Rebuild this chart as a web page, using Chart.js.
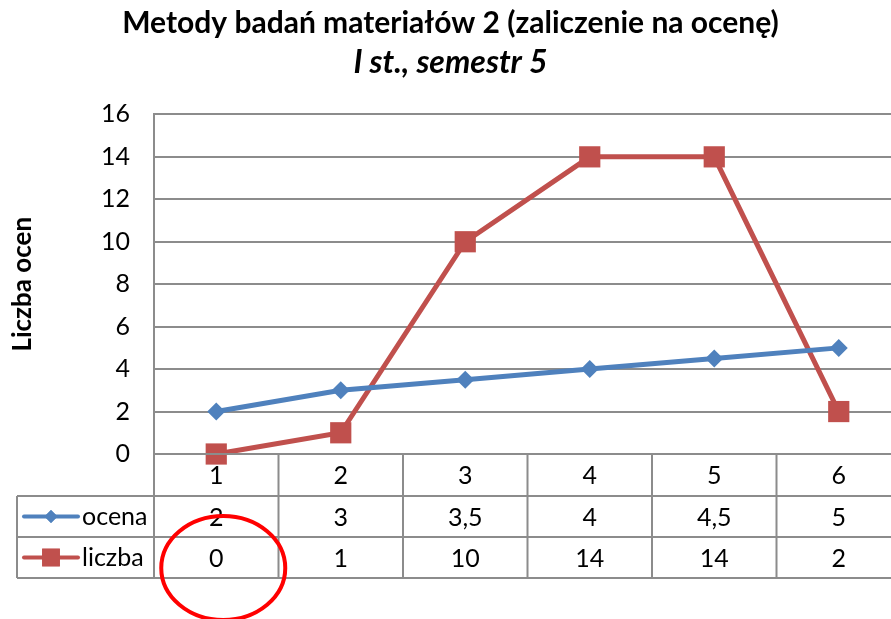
<!DOCTYPE html>
<html lang="pl">
<head>
<meta charset="UTF-8">
<title>Metody badań materiałów 2</title>
<script src="https://cdn.jsdelivr.net/npm/chart.js"></script>
<style>
  html, body { margin: 0; padding: 0; overflow: hidden; background: #fff; }
  canvas { display: block; }
</style>
</head>
<body>
<canvas id="wykres" width="905" height="619"></canvas>
<script>
  // dane z wykresu
  const kategorie = ['1', '2', '3', '4', '5', '6'];
  const ocena = [2, 3, 3.5, 4, 4.5, 5];
  const liczba = [0, 1, 10, 14, 14, 2];
  const ocenaTekst = ['2', '3', '3,5', '4', '4,5', '5'];
  const liczbaTekst = ['0', '1', '10', '14', '14', '2'];

  const NIEBIESKI = '#4F81BD';
  const CZERWONY = '#C0504D';
  const SIATKA = '#8c8c8c';
  const FONT = 'Lato, "Open Sans", sans-serif';

  // tabela danych pod wykresem (rysowana recznie)
  const tabelaPlugin = {
    id: 'tabela',
    afterDraw(chart) {
      const ctx = chart.ctx;
      const x = chart.scales.x;
      const area = chart.chartArea;
      const szer = (area.right - area.left) / kategorie.length;
      const y0 = area.bottom;
      const y1 = y0 + 42, y2 = y1 + 41, y3 = y2 + 41;
      const lewa = 17;

      ctx.save();
      ctx.strokeStyle = SIATKA;
      ctx.lineWidth = 2;
      ctx.beginPath();
      ctx.moveTo(area.left, y0); ctx.lineTo(area.right, y0);
      [y1, y2, y3].forEach(y => { ctx.moveTo(lewa, y); ctx.lineTo(area.right, y); });
      ctx.moveTo(lewa, y1); ctx.lineTo(lewa, y3);
      for (let i = 0; i <= kategorie.length; i++) {
        const xx = area.left + i * szer;
        ctx.moveTo(xx, y0); ctx.lineTo(xx, y3);
      }
      ctx.stroke();

      ctx.fillStyle = '#000';
      ctx.font = '25px ' + FONT;
      ctx.textAlign = 'center';
      ctx.textBaseline = 'middle';
      kategorie.forEach((k, i) => {
        const px = x.getPixelForValue(i);
        ctx.fillText(k, px, (y0 + y1) / 2 + 1);
        ctx.fillText(ocenaTekst[i], px, (y1 + y2) / 2 + 1);
        ctx.fillText(liczbaTekst[i], px, (y2 + y3) / 2 + 1);
      });

      // legenda w tabeli
      const wiersze = [
        { y: (y1 + y2) / 2, kolor: NIEBIESKI, styl: 'rectRot', r: 6.5, nazwa: 'ocena' },
        { y: (y2 + y3) / 2, kolor: CZERWONY, styl: 'rect', r: 12.5, nazwa: 'liczba' }
      ];
      wiersze.forEach(w => {
        ctx.strokeStyle = w.kolor;
        ctx.lineWidth = 4;
        ctx.lineCap = 'round';
        ctx.beginPath();
        ctx.moveTo(24, w.y); ctx.lineTo(78, w.y);
        ctx.stroke();
        ctx.fillStyle = w.kolor;
        Chart.helpers.drawPoint(ctx, { pointStyle: w.styl, radius: w.r, rotation: 0, borderWidth: 0 }, 51, w.y);
        ctx.fill();
        ctx.fillStyle = '#000';
        ctx.textAlign = 'left';
        ctx.fillText(w.nazwa, 82, w.y);
      });

      // czerwone kolko wokol pierwszej wartosci
      ctx.strokeStyle = '#ff0000';
      ctx.lineWidth = 4;
      ctx.beginPath();
      ctx.ellipse(x.getPixelForValue(0) + 7, y3 - 10, 62, 52, 0, 0, Math.PI * 2);
      ctx.stroke();
      ctx.restore();
    }
  };

  const dane = {
    labels: kategorie,
    datasets: [
      {
        label: 'ocena',
        data: ocena,
        borderColor: NIEBIESKI,
        backgroundColor: NIEBIESKI,
        borderWidth: 5,
        pointStyle: 'rectRot',
        pointRadius: 9,
        pointBorderWidth: 0,
        clip: false,
        tension: 0
      },
      {
        label: 'liczba',
        data: liczba,
        borderColor: CZERWONY,
        backgroundColor: CZERWONY,
        borderWidth: 5,
        pointStyle: 'rect',
        pointRadius: 15,
        pointBorderWidth: 0,
        clip: false,
        tension: 0
      }
    ]
  };

  const config = {
    type: 'line',
    data: dane,
    options: {
      responsive: false,
      animation: false,
      // prawa krawedz wykresu wychodzi poza obraz jak w oryginale
      layout: { autoPadding: false, padding: { left: 0, right: 4, top: 0, bottom: 165 } },
      plugins: {
        legend: { display: false },
        tooltip: { enabled: false },
        title: {
          display: true,
          text: 'Metody badań materiałów 2 (zaliczenie na ocenę)',
          color: '#000',
          font: { family: FONT, size: 30, weight: 'bold' },
          padding: { top: 5, bottom: 0 }
        },
        subtitle: {
          display: true,
          text: 'I st., semestr 5',
          color: '#000',
          font: { family: FONT, size: 32, weight: 'bold', style: 'italic' },
          padding: { top: 2, bottom: 33 }
        }
      },
      scales: {
        x: {
          display: false,
          offset: true
        },
        y: {
          min: 0,
          max: 16,
          ticks: {
            stepSize: 2,
            color: '#000',
            padding: 24,
            font: { family: FONT, size: 25 }
          },
          grid: { color: SIATKA, lineWidth: 2, drawTicks: false },
          border: { color: SIATKA, width: 2 },
          title: {
            display: true,
            text: 'Liczba ocen',
            color: '#000',
            font: { family: FONT, size: 26, weight: 'bold' },
            padding: { top: 7, bottom: 0 }
          },
          afterFit(scale) { scale.width = 154; }
        }
      }
    },
    plugins: [tabelaPlugin]
  };

  new Chart(document.getElementById('wykres'), config);
</script>
</body>
</html>
